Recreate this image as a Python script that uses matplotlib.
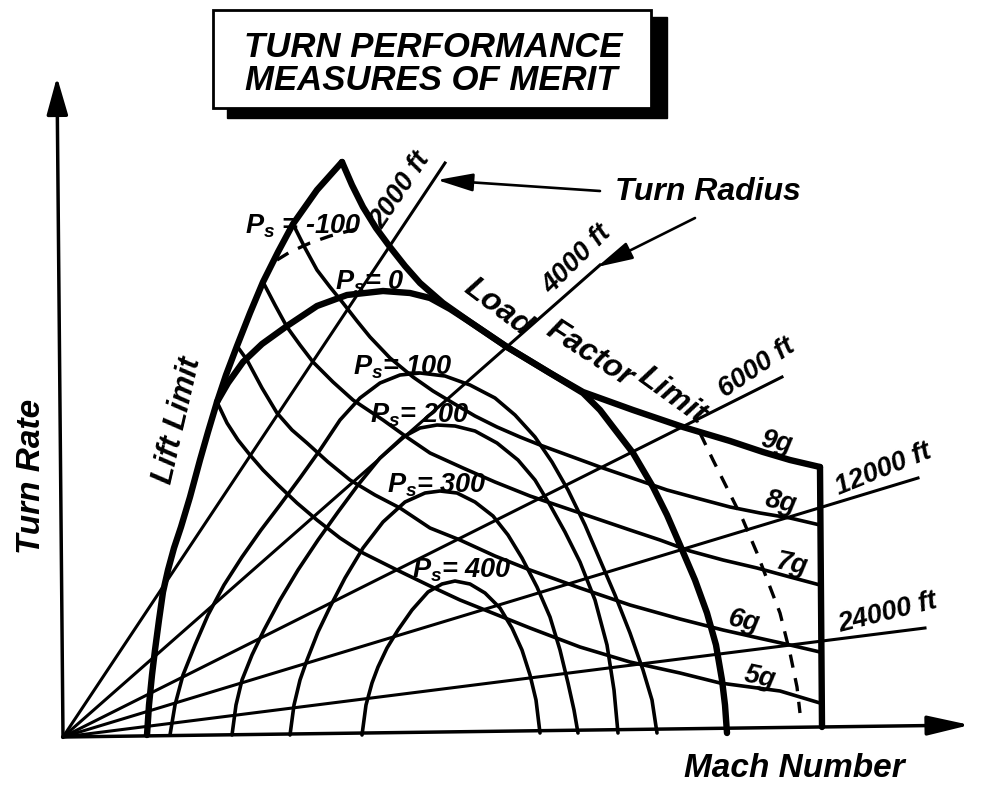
import numpy as np
import matplotlib.pyplot as plt
from matplotlib.patches import Rectangle

plt.rcParams['font.family'] = ['Liberation Sans', 'DejaVu Sans']
plt.rcParams['mathtext.fontset'] = 'custom'
plt.rcParams['mathtext.it'] = 'Liberation Sans:italic:bold'
plt.rcParams['mathtext.rm'] = 'Liberation Sans:bold'

# schematic, in a frame with x to the right and y downward
origin = (63, 737)

# turn radius lines from the origin
radius_labels = ["2000 ft", "4000 ft", "6000 ft", "12000 ft", "24000 ft"]
radius_end_x = [445, 600, 782, 918, 925]
radius_end_y = [163, 265, 377, 478, 628]

# lift limit (stall boundary)
lift_x = [147, 149, 152, 155, 159, 163, 168, 174, 181, 190, 200, 208, 217, 226, 237, 250, 263, 278, 293, 317, 342]
lift_y = [735, 705, 675, 650, 620, 592, 570, 548, 527, 497, 460, 432, 402, 375, 346, 313, 282, 252, 224, 190, 162]

# load factor limit (9g) and the max speed edge
lf_x = [342, 352, 363, 376, 390, 405, 420, 443, 470, 507, 550, 583, 633, 683, 730, 763, 790, 820]
lf_y = [162, 185, 207, 228, 247, 266, 283, 303, 322, 347, 373, 392, 410, 427, 441, 452, 460, 467]
vmax_x = [820, 822]
vmax_y = [467, 727]

# specific excess power contours
ps0_x = [217, 228, 243, 262, 287, 317, 347, 383, 410, 430, 450, 470, 507, 550, 583,
         600, 613, 633, 653, 667, 680, 695, 707, 716, 722, 725, 727]
ps0_y = [402, 383, 362, 344, 326, 306, 295, 291, 293, 298, 309, 322, 347, 373, 393,
         410, 427, 453, 487, 515, 545, 580, 613, 645, 680, 705, 733]
ps100_x = [170, 175, 183, 195, 208, 224, 242, 261, 280, 300, 320, 340, 360, 380, 400, 420, 445,
           470, 495, 515, 535, 552, 568, 585, 600, 615, 630, 643, 652, 657]
ps100_y = [735, 705, 675, 645, 615, 585, 557, 530, 505, 478, 450, 420, 398, 383, 375, 373, 376,
           385, 398, 415, 437, 462, 490, 525, 560, 595, 633, 670, 700, 733]
ps200_x = [232, 236, 242, 252, 264, 280, 298, 318, 338, 358, 380, 403, 420, 437, 455, 475, 497,
           518, 535, 550, 565, 580, 595, 607, 614, 618]
ps200_y = [735, 705, 680, 655, 630, 600, 570, 540, 512, 485, 458, 437, 428, 425, 426, 431, 443,
           460, 480, 505, 532, 562, 600, 645, 690, 733]
ps300_x = [290, 294, 300, 307, 318, 330, 345, 363, 383, 405, 425, 440, 457, 475, 493, 508, 522,
           537, 550, 560, 568, 574, 578]
ps300_y = [735, 705, 680, 660, 632, 607, 578, 548, 522, 502, 493, 491, 493, 502, 516, 535, 558,
           587, 617, 650, 683, 710, 733]
ps400_x = [362, 366, 372, 378, 387, 398, 412, 428, 442, 455, 470, 485, 500, 512, 522, 530, 536, 540]
ps400_y = [735, 705, 683, 667, 648, 630, 610, 592, 584, 581, 584, 593, 608, 628, 650, 675, 700, 733]
psm100_left_x = [277, 290, 310, 330, 360]
psm100_left_y = [260, 252, 243, 236, 228]
psm100_right_x = [700, 713, 723, 733, 743, 757, 770, 780, 790, 797, 800]
psm100_right_y = [433, 460, 480, 500, 520, 553, 587, 613, 653, 687, 713]

# constant load factor lines
g8_x = [293, 305, 317, 330, 343, 357, 370, 390, 413, 433, 453, 475, 497, 520, 540, 570, 600,
        635, 667, 700, 730, 760, 790, 820]
g8_y = [224, 248, 270, 287, 303, 321, 337, 358, 377, 391, 403, 416, 427, 437, 445, 456, 467,
        479, 490, 499, 507, 513, 518, 525]
g7_x = [263, 275, 287, 300, 313, 333, 353, 383, 408, 430, 463, 495, 530, 580, 630, 660, 690,
        723, 757, 790, 820]
g7_y = [282, 305, 327, 345, 362, 382, 400, 420, 438, 453, 468, 482, 496, 513, 530, 540, 551,
        560, 568, 577, 585]
g6_x = [237, 247, 262, 277, 292, 307, 328, 350, 375, 400, 430, 460, 495, 530, 580, 630, 680,
        723, 763, 790, 820]
g6_y = [346, 360, 388, 413, 430, 443, 462, 480, 495, 508, 528, 540, 556, 570, 588, 605, 619,
        630, 639, 645, 652]
g5_x = [217, 227, 238, 250, 263, 277, 297, 317, 340, 363, 397, 430, 460, 495, 530, 580, 630,
        680, 720, 780, 820]
g5_y = [402, 423, 440, 455, 470, 484, 503, 520, 538, 553, 570, 586, 600, 614, 628, 647, 662,
        673, 683, 691, 703]

ps_labels = [r"$P_s$ = -100", r"$P_s$= 0", r"$P_s$= 100", r"$P_s$= 200", r"$P_s$= 300", r"$P_s$= 400"]
ps_label_x = [303, 370, 403, 420, 437, 462]
ps_label_y = [226, 282, 367, 415, 485, 570]
g_labels = ["9g", "8g", "7g", "6g", "5g"]
g_label_x = [777, 781, 791, 744, 760]
g_label_y = [443, 503, 565, 622, 678]

fig = plt.figure(figsize=(9.84, 7.92), dpi=100)
ax = fig.add_axes([0, 0, 1, 1])
ax.set_xlim(0, 984)
ax.set_ylim(792, 0)
ax.axis("off")

thin = dict(color="k", lw=2.6, solid_capstyle="round", solid_joinstyle="round")
thick = dict(color="k", lw=4.6, solid_capstyle="round", solid_joinstyle="round")
dash = dict(color="k", lw=2.4, dashes=(4, 3.2))
bi = dict(fontweight="bold", fontstyle="italic")

# axes with arrow heads
ax.annotate("", xy=(57, 77), xytext=origin,
            arrowprops=dict(arrowstyle="-|>,head_length=2.3,head_width=0.65", color="k",
                            lw=2.5, shrinkA=0, shrinkB=0))
ax.annotate("", xy=(970, 725), xytext=origin,
            arrowprops=dict(arrowstyle="-|>,head_length=2.6,head_width=0.6", color="k",
                            lw=2.5, shrinkA=0, shrinkB=0))

for ex, ey in zip(radius_end_x, radius_end_y):
    ax.plot([origin[0], ex], [origin[1], ey], color="k", lw=2.2)

for xs, ys in [(ps100_x, ps100_y), (ps200_x, ps200_y), (ps300_x, ps300_y), (ps400_x, ps400_y),
               (g8_x, g8_y), (g7_x, g7_y), (g6_x, g6_y), (g5_x, g5_y)]:
    ax.plot(xs, ys, **thin)

ax.plot(psm100_left_x, psm100_left_y, **dash)
ax.plot(psm100_right_x, psm100_right_y, **dash)

for xs, ys in [(lift_x, lift_y), (lf_x, lf_y), (vmax_x, vmax_y), (ps0_x, ps0_y)]:
    ax.plot(xs, ys, **thick)

# title box with drop shadow
ax.add_patch(Rectangle((227, 17), 440, 101, facecolor="k", edgecolor="k"))
ax.add_patch(Rectangle((213, 10), 438, 98, facecolor="white", edgecolor="k", lw=2))
ax.text(433, 57, "TURN PERFORMANCE", ha="center", va="baseline", fontsize=25, **bi)
ax.text(431, 90, "MEASURES OF MERIT", ha="center", va="baseline", fontsize=25, **bi)

ax.text(32, 476, "Turn Rate", rotation=90, ha="center", va="center", fontsize=24, **bi)
ax.text(794, 777, "Mach Number", ha="center", va="baseline", fontsize=24, **bi)
ax.text(178, 420, "Lift Limit", rotation=77, rotation_mode="anchor",
        ha="center", va="center", fontsize=22, **bi)
ax.text(498, 308, "Load", rotation=-37, rotation_mode="anchor", ha="center", va="center", fontsize=23, **bi)
ax.text(590, 354, "Factor", rotation=-33, rotation_mode="anchor", ha="center", va="center", fontsize=23, **bi)
ax.text(672, 396, "Limit", rotation=-36, rotation_mode="anchor", ha="center", va="center", fontsize=23, **bi)

# turn radius callout
ax.text(708, 200, "Turn Radius", ha="center", va="baseline", fontsize=23, **bi)
ax.annotate("", xy=(437, 180), xytext=(600, 191),
            arrowprops=dict(arrowstyle="-|>,head_length=2.2,head_width=0.55", color="k",
                            lw=1.9, shrinkA=0, shrinkB=0))
ax.annotate("", xy=(597, 267), xytext=(695, 218),
            arrowprops=dict(arrowstyle="-|>,head_length=2.2,head_width=0.55", color="k",
                            lw=1.9, shrinkA=0, shrinkB=0))

radius_label_x = [401, 577, 757, 883, 888]
radius_label_y = [190, 260, 368, 470, 613]
radius_label_rot = [56, 45, 34, 22, 14]
for lab, lx, ly, rot in zip(radius_labels, radius_label_x, radius_label_y, radius_label_rot):
    ax.text(lx, ly, lab, rotation=rot, rotation_mode="anchor", ha="center", va="center",
            fontsize=19.5, **bi)

for lab, lx, ly in zip(ps_labels, ps_label_x, ps_label_y):
    ax.text(lx, ly, lab, ha="center", va="center", fontsize=19.5, **bi)

for lab, lx, ly in zip(g_labels, g_label_x, g_label_y):
    ax.text(lx, ly, lab, rotation=-12, rotation_mode="anchor", ha="center", va="center",
            fontsize=19.5, **bi)

fig.savefig("out.png", dpi=100)
